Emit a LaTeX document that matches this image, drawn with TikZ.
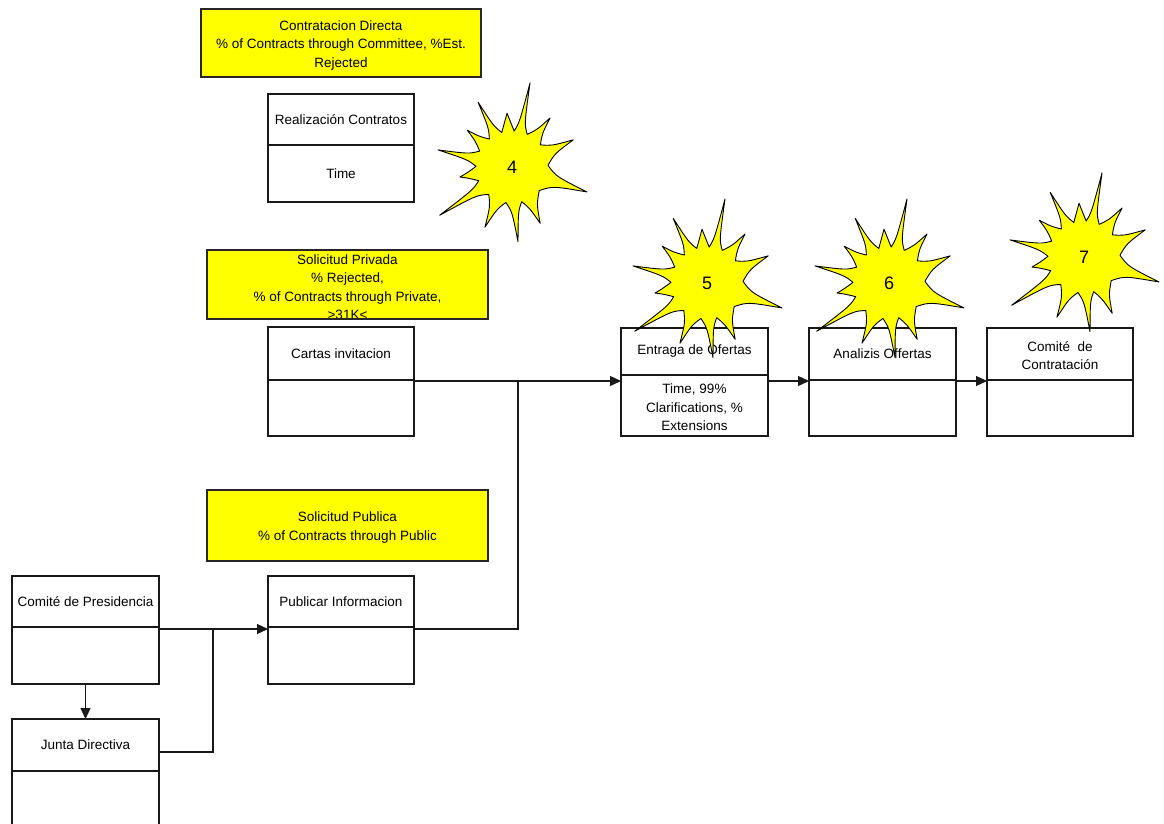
\documentclass[tikz,border=0pt]{standalone}
\usepackage{fontspec}
\setmainfont{Liberation Sans}
\usetikzlibrary{arrows.meta}
\definecolor{ylw}{RGB}{255,255,0}
\newcommand\drawburst[4]{%
  \begin{scope}[shift={(#1,#2)},y=1pt]
    \draw[burst] (65:36) \foreach \m/\a/\r/\n in {65/77.9/86/86.6, 86.6/95.3/54/106.5,
        106.5/117.6/73/129, 129/140.6/58/153.8, 153.8/167/76/179, 179/190.9/53/202.3,
        202.3/213.7/87/229.8, 229.8/245.8/66/260.2, 260.2/274.6/75/285.6,
        285.6/296.6/63/319.1, 319.1/341.6/79/362.75, 362.75/383.9/67/398, 398/412.2/62/425}
      { .. controls ({\m+0.7*(\a-\m)}:45) .. (\a:\r) .. controls ({\n+0.7*(\a-\n)}:45) .. (\n:36) } -- cycle;
    \node[numtxt] (#3) at (0,0) {#4};
  \end{scope}}
\begin{document}
\begin{tikzpicture}[x=1pt,y=-1pt,
  every node/.style={font=\fontsize{13.5}{18.5}\selectfont, align=center, inner sep=0pt, outer sep=0pt},
  part/.style={draw=black!90, line width=1.3pt, fill=white, minimum width=146pt, anchor=north west},
  ybox/.style={draw=black!85, line width=1.6pt, fill=ylw, anchor=north west},
  arr/.style={-{Triangle[length=11pt,width=10pt]}, line width=1.3pt, draw=black!90},
  conn/.style={line width=1.3pt, draw=black!90},
  burst/.style={fill=ylw, draw=black, line width=0.9pt, line join=round},
  numtxt/.style={font=\fontsize{18}{20}\selectfont}
]
\clip (0,0) rectangle (1164,824);
\fill[white] (0,0) rectangle (1164,824);

% yellow metric boxes
\node[ybox, minimum width=280pt, minimum height=68pt] (directa) at (201,9) {};
\node (directa-txt) at (341,45.5)
  {Contratacion Directa\\\% of Contracts through Committee, \%Est.\\Rejected};
\node[ybox, minimum width=281pt, minimum height=69pt] (privada) at (207,250) {};
\begin{scope}
  \clip (privada.north west) rectangle (privada.south east);
  \node (privada-txt) at (347.5,287) {Solicitud Privada\\\% Rejected,\\\% of Contracts through Private,\\>31K<};
\end{scope}
\draw[draw=black!85, line width=1.6pt] (privada.north west) rectangle (privada.south east);
\node[ybox, minimum width=281pt, minimum height=71pt] (publica) at (207,490) {};
\node (publica-txt) at (347.5,527.5) {Solicitud Publica\\\% of Contracts through Public};

% process boxes
\node[part, minimum height=51pt] (real-t) at (268,94) {Realización Contratos};
\node[part, minimum height=57pt] (real-b) at (real-t.south west) {Time};

\node[part, minimum height=53pt] (cartas-t) at (268,327) {Cartas invitacion};
\node[part, minimum height=56pt] (cartas-b) at (cartas-t.south west) {};

\node[part, minimum height=47pt, minimum width=147pt] (entraga-t) at (621,328) {Entraga de Ofertas};
\node[part, minimum height=61pt, minimum width=147pt] (entraga-b) at (entraga-t.south west) {};
\node (entraga-txt) at ([yshift=-2pt]entraga-b.center) {Time, 99\%\\Clarifications, \%\\Extensions};

\node[part, minimum height=52pt, minimum width=147pt] (analizis-t) at (809,328) {Analizis Offertas};
\node[part, minimum height=56pt, minimum width=147pt] (analizis-b) at (analizis-t.south west) {};

\node[part, minimum height=52pt] (contrat-t) at (987,328) {};
\node (contrat-txt) at ([yshift=-1.5pt]contrat-t.center) {Comité\ \ de\\Contratación};
\node[part, minimum height=56pt] (contrat-b) at (contrat-t.south west) {};

\node[part, minimum height=51pt, minimum width=147pt] (pres-t) at (12,576) {Comité de Presidencia};
\node[part, minimum height=57pt, minimum width=147pt] (pres-b) at (pres-t.south west) {};

\node[part, minimum height=51pt] (publicar-t) at (268,576) {Publicar Informacion};
\node[part, minimum height=57pt] (publicar-b) at (publicar-t.south west) {};

\node[part, minimum height=52pt, minimum width=147pt] (junta-t) at (12,719) {Junta Directiva};
\node[part, minimum height=80pt, minimum width=147pt] (junta-b) at (junta-t.south west) {};

% connectors
\coordinate (j1) at (518,381);
\coordinate (j2) at (213,630);
\draw[arr] ([yshift=-1pt]cartas-t.south east) -- ([yshift=-1pt]cartas-t.south east -| entraga-t.west);
\draw[conn] ([yshift=-2pt]publicar-t.south east) -| (j1);
\draw[arr] ([yshift=-2pt]pres-t.south east) -- ([yshift=-2pt]publicar-t.south west);
\draw[conn] ([yshift=-7pt]junta-t.east) -| (j2);
\draw[arr] (pres-b.south) -- (junta-t.north);
\draw[arr] ([yshift=-1pt]analizis-t.south west -| entraga-t.east) -- ([yshift=-1pt]analizis-t.south west);
\draw[arr] ([yshift=-1pt]analizis-t.south east) -- ([yshift=-1pt]contrat-t.south west);

% bursts
\drawburst{512}{167}{n4}{4}
\drawburst{707}{283}{n5}{5}
\drawburst{889}{283}{n6}{6}
\drawburst{1084}{257}{n7}{7}
\end{tikzpicture}
\end{document}
